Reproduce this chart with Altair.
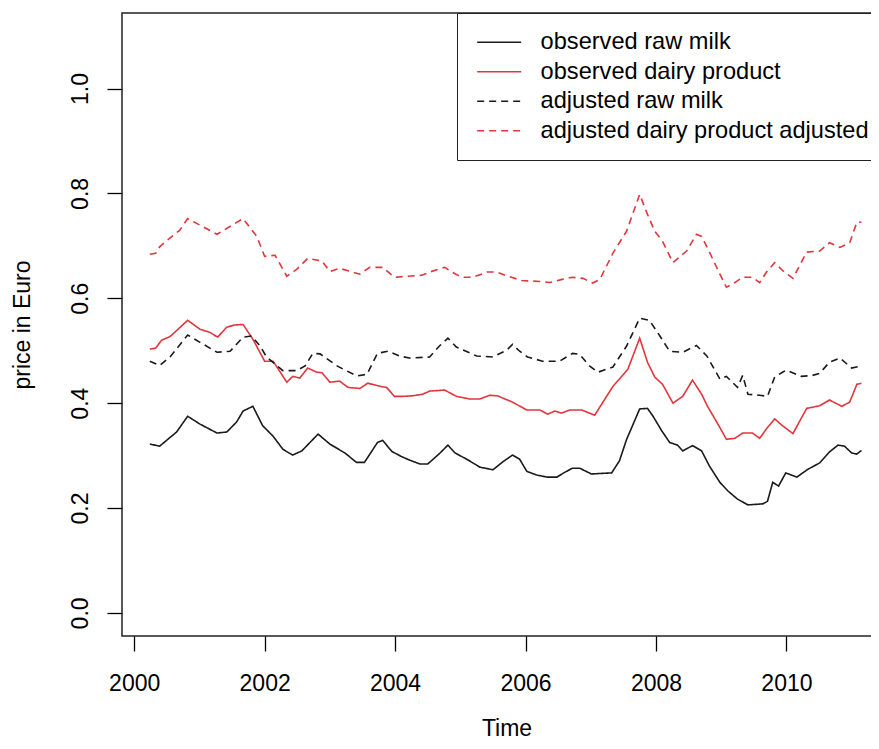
import altair as alt
import pandas as pd

series_names = ["observed raw milk", "observed dairy product",
                "adjusted raw milk", "adjusted dairy product adjusted"]
series_colors = ["#1a1a1a", "#E0363C", "#1a1a1a", "#E0363C"]
series_dashes = [[1, 0], [1, 0], [7, 5], [7, 5]]

raw_t = [2000.24, 2000.39, 2000.65, 2000.82, 2001.01, 2001.27, 2001.42, 2001.57, 2001.67, 2001.82,
         2001.97, 2002.13, 2002.28, 2002.43, 2002.57, 2002.82, 2003.00, 2003.23, 2003.41, 2003.53,
         2003.73, 2003.81, 2003.95, 2004.10, 2004.23, 2004.38, 2004.50, 2004.61, 2004.69, 2004.81,
         2004.92, 2005.10, 2005.30, 2005.50, 2005.65, 2005.80, 2005.91, 2006.02, 2006.17, 2006.33,
         2006.48, 2006.60, 2006.72, 2006.83, 2007.01, 2007.32, 2007.44, 2007.55, 2007.64, 2007.75,
         2007.87, 2007.95, 2008.09, 2008.21, 2008.33, 2008.41, 2008.56, 2008.70, 2008.82, 2008.98,
         2009.10, 2009.25, 2009.41, 2009.64, 2009.71, 2009.79, 2009.88, 2009.99, 2010.16, 2010.33,
         2010.51, 2010.66, 2010.79, 2010.89, 2011.00, 2011.08, 2011.15]
raw_v = [0.322, 0.318, 0.345, 0.375, 0.360, 0.343, 0.345, 0.364, 0.385, 0.394,
         0.357, 0.337, 0.312, 0.301, 0.309, 0.341, 0.322, 0.305, 0.287, 0.287,
         0.325, 0.329, 0.308, 0.298, 0.291, 0.284, 0.284, 0.296, 0.305, 0.320,
         0.305, 0.293, 0.278, 0.273, 0.288, 0.301, 0.293, 0.270, 0.263, 0.259,
         0.259, 0.268, 0.276, 0.276, 0.265, 0.267, 0.290, 0.331, 0.357, 0.389,
         0.390, 0.376, 0.347, 0.325, 0.320, 0.309, 0.319, 0.309, 0.280, 0.249,
         0.233, 0.217, 0.206, 0.208, 0.213, 0.249, 0.242, 0.267, 0.259, 0.274,
         0.286, 0.307, 0.320, 0.318, 0.305, 0.303, 0.310]

dairy_t = [2000.24, 2000.33, 2000.42, 2000.55, 2000.82, 2001.01, 2001.16, 2001.28, 2001.42, 2001.54,
           2001.67, 2001.82, 2002.00, 2002.13, 2002.34, 2002.43, 2002.54, 2002.66, 2002.80, 2002.88,
           2003.00, 2003.15, 2003.28, 2003.46, 2003.58, 2003.81, 2003.87, 2003.99, 2004.12, 2004.27,
           2004.42, 2004.53, 2004.76, 2004.94, 2005.14, 2005.30, 2005.45, 2005.57, 2005.80, 2006.02,
           2006.22, 2006.34, 2006.45, 2006.55, 2006.68, 2006.86, 2007.06, 2007.34, 2007.44, 2007.57,
           2007.75, 2007.87, 2007.98, 2008.10, 2008.26, 2008.41, 2008.56, 2008.70, 2008.79, 2008.95,
           2009.08, 2009.21, 2009.33, 2009.48, 2009.59, 2009.70, 2009.82, 2009.94, 2010.10, 2010.31,
           2010.51, 2010.66, 2010.85, 2010.97, 2011.08, 2011.15]
dairy_v = [0.503, 0.505, 0.520, 0.527, 0.558, 0.541, 0.535, 0.526, 0.545, 0.549,
           0.550, 0.522, 0.480, 0.480, 0.440, 0.451, 0.448, 0.467, 0.459, 0.458,
           0.440, 0.442, 0.430, 0.428, 0.438, 0.431, 0.430, 0.413, 0.413, 0.414,
           0.417, 0.423, 0.425, 0.413, 0.408, 0.408, 0.415, 0.414, 0.402, 0.387,
           0.387, 0.379, 0.385, 0.381, 0.387, 0.387, 0.377, 0.432, 0.446, 0.465,
           0.524, 0.478, 0.450, 0.436, 0.400, 0.413, 0.444, 0.417, 0.394, 0.360,
           0.331, 0.333, 0.343, 0.343, 0.333, 0.352, 0.370, 0.357, 0.342, 0.390,
           0.395, 0.406, 0.394, 0.402, 0.436, 0.438]

adj_raw_t = [2000.24, 2000.39, 2000.55, 2000.82, 2001.01, 2001.27, 2001.47, 2001.67, 2001.80, 2001.93,
             2002.03, 2002.28, 2002.49, 2002.62, 2002.74, 2002.85, 2003.11, 2003.41, 2003.57, 2003.73,
             2003.89, 2004.07, 2004.22, 2004.53, 2004.68, 2004.81, 2004.94, 2005.25, 2005.50, 2005.71,
             2005.80, 2005.91, 2006.03, 2006.26, 2006.52, 2006.72, 2006.83, 2006.98, 2007.11, 2007.34,
             2007.55, 2007.75, 2007.90, 2008.06, 2008.21, 2008.41, 2008.62, 2008.78, 2008.98, 2009.08,
             2009.25, 2009.33, 2009.41, 2009.59, 2009.71, 2009.82, 2009.94, 2010.00, 2010.23, 2010.40,
             2010.51, 2010.66, 2010.82, 2011.00, 2011.15]
adj_raw_v = [0.480, 0.472, 0.488, 0.530, 0.516, 0.497, 0.499, 0.526, 0.528, 0.509,
             0.488, 0.462, 0.462, 0.471, 0.495, 0.494, 0.471, 0.452, 0.455, 0.495,
             0.499, 0.490, 0.486, 0.488, 0.509, 0.524, 0.507, 0.490, 0.488, 0.501,
             0.512, 0.499, 0.488, 0.480, 0.480, 0.495, 0.493, 0.471, 0.459, 0.469,
             0.509, 0.562, 0.558, 0.528, 0.499, 0.497, 0.510, 0.490, 0.446, 0.451,
             0.430, 0.453, 0.417, 0.415, 0.413, 0.450, 0.459, 0.463, 0.451, 0.453,
             0.457, 0.478, 0.486, 0.467, 0.471]

adj_dairy_t = [2000.24, 2000.33, 2000.39, 2000.55, 2000.70, 2000.82, 2001.27, 2001.67, 2001.88, 2002.00,
               2002.16, 2002.34, 2002.49, 2002.66, 2002.88, 2003.00, 2003.15, 2003.46, 2003.61, 2003.81,
               2003.99, 2004.18, 2004.41, 2004.53, 2004.76, 2004.87, 2005.02, 2005.19, 2005.41, 2005.56,
               2005.73, 2005.94, 2006.22, 2006.37, 2006.56, 2006.72, 2006.88, 2007.03, 2007.14, 2007.34,
               2007.55, 2007.75, 2007.87, 2007.98, 2008.10, 2008.26, 2008.47, 2008.62, 2008.70, 2008.82,
               2008.98, 2009.08, 2009.21, 2009.33, 2009.48, 2009.59, 2009.70, 2009.82, 2009.94, 2010.10,
               2010.31, 2010.51, 2010.66, 2010.82, 2010.97, 2011.08, 2011.15]
adj_dairy_v = [0.684, 0.686, 0.698, 0.715, 0.730, 0.752, 0.722, 0.752, 0.718, 0.680,
               0.682, 0.642, 0.655, 0.676, 0.671, 0.651, 0.657, 0.646, 0.659, 0.659,
               0.640, 0.642, 0.644, 0.650, 0.659, 0.650, 0.640, 0.640, 0.650, 0.650,
               0.642, 0.634, 0.632, 0.630, 0.636, 0.640, 0.638, 0.629, 0.636, 0.686,
               0.728, 0.798, 0.760, 0.728, 0.709, 0.668, 0.690, 0.722, 0.718, 0.688,
               0.646, 0.621, 0.630, 0.640, 0.640, 0.630, 0.651, 0.668, 0.653, 0.638,
               0.688, 0.690, 0.706, 0.697, 0.706, 0.745, 0.745]

x_ticks = [2000, 2002, 2004, 2006, 2008, 2010]
y_ticks = [0.0, 0.2, 0.4, 0.6, 0.8, 1.0]

rows = []
for name, ts, vs in zip(series_names,
                        [raw_t, dairy_t, adj_raw_t, adj_dairy_t],
                        [raw_v, dairy_v, adj_raw_v, adj_dairy_v]):
    for t, v in zip(ts, vs):
        rows.append({"series": name, "time": t, "price": v})
df = pd.DataFrame(rows)

FONT = "Liberation Sans"

legend = alt.Legend(
    title=None, orient="none", legendX=335, legendY=0, direction="vertical",
    symbolType="M-1.66,0H6.34", symbolSize=121, symbolStrokeWidth=1.6,
    labelFontSize=23.6, labelFont=FONT, labelColor="black", labelLimit=0,
    padding=17.5, rowPadding=4.5, labelOffset=42.5,
    strokeColor="#222222", fillColor="white",
)

chart = alt.Chart(df).mark_line(strokeWidth=1.6, clip=True).encode(
    x=alt.X("time:Q",
            scale=alt.Scale(domain=[1999.8133, 2011.6033], nice=False, zero=False),
            axis=alt.Axis(values=x_ticks, format="d", title="Time",
                          tickSize=15, tickWidth=1.3, tickColor="black",
                          domain=False, grid=False,
                          labelFont=FONT, labelFontSize=23, labelColor="black",
                          labelPadding=39, labelBaseline="alphabetic",
                          labelFlush=False, labelOverlap=False,
                          titleFont=FONT, titleFontSize=23, titleFontWeight="normal",
                          titleColor="black", titleBaseline="alphabetic", titleY=99)),
    y=alt.Y("price:Q",
            scale=alt.Scale(domain=[-0.044, 1.144], nice=False, zero=False),
            axis=alt.Axis(values=y_ticks, format=".1f", title="price in Euro",
                          tickSize=15, tickWidth=1.3, tickColor="black",
                          domain=False, grid=False,
                          labelFont=FONT, labelFontSize=23, labelColor="black",
                          labelAngle=270, labelAlign="center", labelBaseline="alphabetic",
                          labelPadding=20, labelFlush=False, labelOverlap=False,
                          titleFont=FONT, titleFontSize=23, titleFontWeight="normal",
                          titleColor="black", titleAngle=270, titleAlign="center",
                          titleBaseline="alphabetic", titleX=-92.5, titleY=311.5)),
    color=alt.Color("series:N",
                    scale=alt.Scale(domain=series_names, range=series_colors),
                    legend=legend),
    strokeDash=alt.StrokeDash("series:N",
                              scale=alt.Scale(domain=series_names, range=series_dashes),
                              legend=legend),
    order=alt.Order("time:Q"),
).properties(
    width=769, height=623,
    autosize=alt.AutoSizeParams(type="none"),
    padding={"left": 114, "top": 5, "right": -20, "bottom": 105},
    background="white",
).configure_view(stroke="#222222", strokeWidth=1.5)

chart.save("out.html", embed_options={"renderer": "svg", "actions": False})
